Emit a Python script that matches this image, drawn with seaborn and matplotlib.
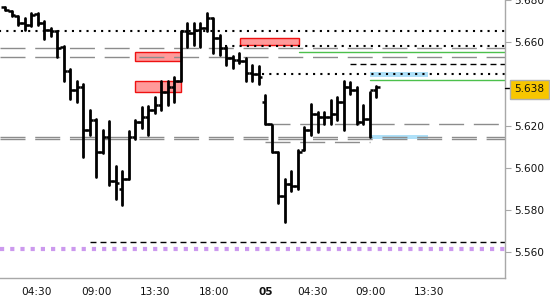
import numpy as np
import pandas as pd
import matplotlib
matplotlib.use("Agg")
import matplotlib.pyplot as plt
import seaborn as sns

# ---------------- data (30-min OHLC bars) ----------------
opens = [5.6769, 5.6746, 5.6722, 5.6689, 5.6680, 5.6732, 5.6689, 5.6656, 5.6652, 5.6576,
         5.6464, 5.6369, 5.6384, 5.6181, 5.6228, 5.6078, 5.6148, 5.5936, 5.5899, 5.5946,
         5.6148, 5.6219, 5.6242, 5.6275, 5.6299, 5.6360, 5.6384, 5.6416, 5.6652, 5.6642,
         5.6656, 5.6666, 5.6713, 5.6619, 5.6572, 5.6525, 5.6515, 5.6510, 5.6454, 5.6445,
         5.6313, 5.6209, 5.6078, 5.5866, 5.5922, 5.5913, 5.6087, 5.6181, 5.6256, 5.6242,
         5.6242, 5.6256, 5.6313, 5.6384, 5.6369, 5.6219, 5.6233, 5.6369]
highs = [5.6769, 5.6746, 5.6722, 5.6713, 5.6736, 5.6736, 5.6699, 5.6666, 5.6652, 5.6581,
         5.6473, 5.6416, 5.6398, 5.6275, 5.6233, 5.6181, 5.6224, 5.6007, 5.5984, 5.6176,
         5.6228, 5.6289, 5.6294, 5.6336, 5.6416, 5.6416, 5.6431, 5.6652, 5.6689, 5.6689,
         5.6689, 5.6736, 5.6713, 5.6633, 5.6576, 5.6534, 5.6548, 5.6525, 5.6492, 5.6487,
         5.6346, 5.6205, 5.6078, 5.5946, 5.5984, 5.6087, 5.6195, 5.6304, 5.6266, 5.6266,
         5.6322, 5.6336, 5.6416, 5.6407, 5.6384, 5.6299, 5.6360, 5.6388]
lows = [5.6751, 5.6722, 5.6680, 5.6656, 5.6675, 5.6680, 5.6614, 5.6628, 5.6529, 5.6416,
        5.6327, 5.6313, 5.6054, 5.6158, 5.5955, 5.6073, 5.5918, 5.5852, 5.5824, 5.5946,
        5.6139, 5.6191, 5.6158, 5.6261, 5.6275, 5.6299, 5.6313, 5.6416, 5.6576, 5.6586,
        5.6576, 5.6652, 5.6548, 5.6539, 5.6492, 5.6478, 5.6501, 5.6416, 5.6416, 5.6398,
        5.6209, 5.6078, 5.5833, 5.5740, 5.5889, 5.5899, 5.6087, 5.6158, 5.6172, 5.6209,
        5.6209, 5.6228, 5.6181, 5.6351, 5.6209, 5.6209, 5.6148, 5.6336]
closes = [5.6751, 5.6727, 5.6689, 5.6680, 5.6727, 5.6689, 5.6656, 5.6652, 5.6572, 5.6464,
          5.6369, 5.6384, 5.6181, 5.6228, 5.6078, 5.6148, 5.5936, 5.5927, 5.5946, 5.6148,
          5.6219, 5.6242, 5.6275, 5.6299, 5.6360, 5.6384, 5.6416, 5.6652, 5.6642, 5.6656,
          5.6666, 5.6713, 5.6619, 5.6572, 5.6525, 5.6515, 5.6510, 5.6454, 5.6445, 5.6431,
          5.6209, 5.6078, 5.5866, 5.5922, 5.5913, 5.6078, 5.6181, 5.6256, 5.6242, 5.6242,
          5.6256, 5.6313, 5.6384, 5.6369, 5.6219, 5.6233, 5.6369, 5.6384]

tick_labels = ["04:30", "09:00", "13:30", "18:00", "05", "04:30", "09:00", "13:30", ""]
tick_slots = [4.9, 14.0, 23.0, 32.1, 40.1, 47.2, 56.1, 65.1, 74.2]

price_ticks = [5.560, 5.580, 5.600, 5.620, 5.660, 5.680]
last_price = 5.638

# horizontal levels: value, start slot
dotted_levels = [5.6652, 5.6581, 5.6445]
dotted_starts = [-1.0, 33.8, 39.5]
gray_levels = [5.6572, 5.6529, 5.6145, 5.6136]
gray_partial_levels = [5.6209, 5.6125]
gray_partial_starts = [40.0, 40.0]
gray_partial_ends = [78.0, 56.0]
green_levels = [5.6553, 5.6417]
green_starts = [45.2, 56.0]
black_dash_levels = [5.6497, 5.5645]
black_dash_starts = [53.0, 13.0]
purple_level = 5.5612

# zones: slot0, slot1, low, high
red_zones = [(20.0, 27.0, 5.6511, 5.6553), (20.0, 27.0, 5.6360, 5.6412), (36.1, 45.2, 5.6586, 5.6619)]
blue_zones = [(56.1, 65.0, 5.6431, 5.6459), (56.1, 65.0, 5.6139, 5.6158)]

# ---------------- plotting ----------------
sns.set_style("white")
plt.rcParams['font.family'] = ['DejaVu Sans']

fig = plt.figure(figsize=(5.5, 3), dpi=100)
ax = fig.add_axes([0, 22 / 300, 505 / 550, 278 / 300])

xmin, xmax = -0.77, 76.8
ax.set_xlim(xmin, xmax)
ax.set_ylim(5.54753, 5.67835)

# zones
for x0, x1, lo, hi in red_zones:
    ax.add_patch(plt.Rectangle((x0, lo), x1 - x0, hi - lo, facecolor="#ff9a9a",
                               edgecolor="#ee1111", lw=1.0, zorder=1))
for x0, x1, lo, hi in blue_zones:
    ax.add_patch(plt.Rectangle((x0, lo), x1 - x0, hi - lo, facecolor="#aee0f8",
                               edgecolor="none", zorder=1))

# gray dashed levels
for v in gray_levels:
    ax.plot([xmin, xmax], [v, v], color="#8c8c8c", lw=1.0, dashes=(18, 7), zorder=1.5)
for v, s, e in zip(gray_partial_levels, gray_partial_starts, gray_partial_ends):
    ax.plot([s, e], [v, v], color="#8c8c8c", lw=1.0, dashes=(18, 7), zorder=1.5)
# dotted black levels
for v, s in zip(dotted_levels, dotted_starts):
    ax.plot([s, xmax], [v, v], color="black", lw=1.5, dashes=(1, 2.5), zorder=1.6)
# green levels
for v, s in zip(green_levels, green_starts):
    ax.plot([s, xmax], [v, v], color="#4cc04c", lw=1.0, zorder=1.6)
# black short dashes
for v, s in zip(black_dash_levels, black_dash_starts):
    ax.plot([s, xmax], [v, v], color="black", lw=1.0, dashes=(4.3, 2.9), zorder=1.6)
# purple dotted
ax.plot([xmin, xmax], [purple_level, purple_level], color="#cc99ee", lw=3.0,
        dashes=(1, 1.45), zorder=1.6)

# OHLC bars
slots = np.arange(len(opens))
df = pd.DataFrame({
    "slot": np.concatenate([slots, slots]),
    "price": np.concatenate([highs, lows]),
    "bar": np.concatenate([slots, slots]),
})
sns.lineplot(data=df, x="slot", y="price", units="bar", estimator=None, sort=False,
             color="black", lw=2.0, ax=ax, legend=False, zorder=3)
ax.hlines(opens, slots - 0.55, slots, color="black", lw=1.8, zorder=3)
ax.hlines(closes, slots, slots + 0.55, color="black", lw=1.8, zorder=3)

# axes styling
for s in ["left", "top"]:
    ax.spines[s].set_visible(False)
for s in ["right", "bottom"]:
    ax.spines[s].set_color("#a8a8a8")
    ax.spines[s].set_linewidth(1.0)
ax.yaxis.tick_right()
ax.set_yticks(price_ticks)
ax.set_yticklabels([f"{t:.3f}" for t in price_ticks])
ax.set_xticks(tick_slots)
ax.set_xticklabels(tick_labels)
ax.tick_params(axis="y", length=4, color="#a8a8a8", pad=2.5, labelsize=7.6, labelcolor="#111111")
ax.tick_params(axis="x", length=4, color="#a8a8a8", pad=2.5, labelsize=7.6, labelcolor="#111111")
for lab in ax.get_xticklabels():
    if lab.get_text() == "05":
        lab.set_fontweight("bold")
ax.set_xlabel("")
ax.set_ylabel("")
ax.grid(False)

# last price label
trans = matplotlib.transforms.blended_transform_factory(ax.transAxes, ax.transData)
ax.plot([1.0, 1.011], [last_price, last_price], color="black", lw=1.0, transform=trans,
        clip_on=False, zorder=5)
ax.text(1.019, last_price - 0.0006, f"{last_price:.3f}", transform=trans, fontsize=7.6,
        va="center", ha="left", color="#111111", clip_on=False, zorder=6,
        bbox=dict(boxstyle="square,pad=0.42", facecolor="#f7c600", edgecolor="#b0b0b0", lw=1.0))

fig.savefig("out.png", dpi=100)
